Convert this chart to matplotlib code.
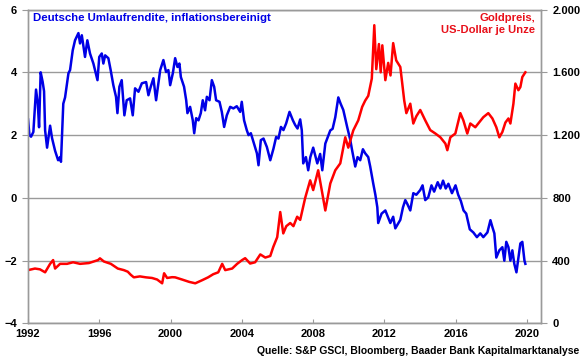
import numpy as np
import matplotlib
matplotlib.use("Agg")
import matplotlib.pyplot as plt
from matplotlib.ticker import FuncFormatter

plt.rcParams['font.family'] = ['Liberation Sans', 'DejaVu Sans']
plt.rcParams['font.weight'] = 'bold'

umlauf = [
    (1992.0, 2.5), (1992.08, 2.0), (1992.17, 1.95), (1992.3, 2.1), (1992.45, 3.45),
    (1992.55, 3.0), (1992.62, 2.25), (1992.71, 4.0), (1992.82, 3.7), (1992.9, 3.4),
    (1992.96, 2.15), (1993.07, 1.6), (1993.24, 2.3), (1993.35, 1.9), (1993.52, 1.5),
    (1993.69, 1.2), (1993.8, 1.3), (1993.85, 1.15), (1993.98, 3.0), (1994.08, 3.2),
    (1994.27, 3.97), (1994.36, 4.07), (1994.51, 4.7), (1994.64, 5.02), (1994.83, 5.25),
    (1994.92, 4.92), (1995.02, 5.18), (1995.2, 4.49), (1995.33, 5.02), (1995.48, 4.6),
    (1995.67, 4.28), (1995.9, 3.75), (1996.0, 4.49), (1996.14, 4.6), (1996.23, 4.28),
    (1996.33, 4.54), (1996.51, 4.45), (1996.64, 4.07), (1996.79, 3.59), (1996.94, 3.22),
    (1997.02, 2.7), (1997.13, 3.54), (1997.26, 3.75), (1997.41, 2.63), (1997.54, 3.11),
    (1997.73, 3.17), (1997.88, 2.63), (1998.01, 3.49), (1998.2, 3.38), (1998.39, 3.65),
    (1998.63, 3.69), (1998.76, 3.27), (1998.89, 3.54), (1999.04, 3.81), (1999.19, 3.11),
    (1999.42, 4.07), (1999.6, 4.39), (1999.75, 4.01), (1999.88, 4.07), (1999.98, 3.59),
    (2000.13, 3.97), (2000.26, 4.45), (2000.39, 4.17), (2000.5, 4.28), (2000.58, 3.85),
    (2000.76, 3.54), (2000.88, 3.11), (2000.95, 2.7), (2001.1, 2.9), (2001.25, 2.47),
    (2001.33, 2.06), (2001.44, 2.54), (2001.57, 2.47), (2001.7, 2.7), (2001.81, 3.11),
    (2001.94, 2.79), (2002.04, 3.22), (2002.19, 3.11), (2002.32, 3.75), (2002.45, 3.54),
    (2002.56, 3.11), (2002.75, 3.06), (2002.88, 2.74), (2003.01, 2.26), (2003.16, 2.63),
    (2003.35, 2.9), (2003.53, 2.85), (2003.72, 2.92), (2003.91, 2.74), (2004.0, 3.06),
    (2004.13, 2.47), (2004.28, 2.16), (2004.38, 2.0), (2004.51, 2.06), (2004.66, 1.78),
    (2004.85, 1.42), (2004.94, 1.04), (2005.07, 1.84), (2005.22, 1.89), (2005.41, 1.62),
    (2005.6, 1.2), (2005.78, 1.57), (2005.93, 1.94), (2006.06, 1.89), (2006.2, 2.26),
    (2006.34, 2.16), (2006.49, 2.37), (2006.68, 2.74), (2006.87, 2.47), (2007.0, 2.32),
    (2007.13, 2.21), (2007.28, 2.5), (2007.37, 2.15), (2007.45, 1.1), (2007.6, 1.3),
    (2007.73, 0.88), (2007.85, 1.3), (2008.01, 1.6), (2008.24, 1.1), (2008.4, 1.4),
    (2008.52, 0.88), (2008.69, 1.73), (2008.97, 2.15), (2009.1, 2.2), (2009.25, 2.57),
    (2009.42, 3.2), (2009.55, 3.0), (2009.7, 2.8), (2009.92, 2.25), (2010.09, 1.85),
    (2010.2, 1.5), (2010.37, 1.0), (2010.5, 1.3), (2010.65, 1.2), (2010.8, 1.55),
    (2010.93, 1.42), (2011.1, 1.3), (2011.21, 1.0), (2011.38, 0.46), (2011.5, 0.1),
    (2011.61, -0.3), (2011.66, -0.8), (2011.85, -0.5), (2012.06, -0.4), (2012.2, -0.6),
    (2012.34, -0.8), (2012.5, -0.6), (2012.62, -0.97), (2012.9, -0.7), (2013.05, -0.3),
    (2013.18, -0.07), (2013.3, -0.2), (2013.46, -0.4), (2013.63, 0.15), (2013.8, 0.1),
    (2014.02, 0.25), (2014.15, 0.4), (2014.3, -0.07), (2014.47, 0.02), (2014.65, 0.4),
    (2014.8, 0.2), (2015.0, 0.5), (2015.15, 0.3), (2015.3, 0.55), (2015.45, 0.3),
    (2015.6, 0.45), (2015.8, 0.15), (2016.0, 0.4), (2016.15, 0.1), (2016.3, -0.1),
    (2016.45, -0.4), (2016.6, -0.5), (2016.8, -1.0), (2017.0, -1.1), (2017.2, -1.25),
    (2017.39, -1.13), (2017.56, -1.25), (2017.79, -1.1), (2017.96, -0.71), (2018.07, -0.93),
    (2018.18, -1.13), (2018.29, -1.9), (2018.46, -1.67), (2018.63, -1.57), (2018.74, -2.0),
    (2018.85, -1.4), (2018.97, -1.57), (2019.08, -2.0), (2019.19, -1.67), (2019.3, -2.1),
    (2019.42, -2.37), (2019.53, -1.9), (2019.64, -1.45), (2019.75, -1.4), (2019.87, -2.0),
    (2019.92, -2.1),
]

# Goldpreis, US-Dollar je Unze: (year, value)
gold = [
    (1992.0, 340), (1992.2, 345), (1992.39, 350), (1992.67, 345), (1992.96, 326),
    (1993.24, 380), (1993.41, 404), (1993.52, 350), (1993.8, 380), (1994.19, 380),
    (1994.53, 390), (1994.92, 380), (1995.42, 385), (1995.93, 404), (1996.04, 415),
    (1996.26, 395), (1996.65, 380), (1997.04, 350), (1997.38, 340), (1997.6, 330),
    (1997.77, 310), (1997.94, 294), (1998.28, 300), (1998.62, 294), (1998.96, 290),
    (1999.25, 280), (1999.53, 256), (1999.64, 320), (1999.81, 290), (2000.09, 295),
    (2000.26, 294), (2000.65, 280), (2001.05, 265), (2001.39, 256), (2001.78, 276),
    (2002.11, 294), (2002.4, 314), (2002.68, 326), (2002.9, 380), (2003.07, 340),
    (2003.46, 350), (2003.74, 380), (2004.02, 404), (2004.19, 416), (2004.47, 382),
    (2004.75, 390), (2005.04, 440), (2005.32, 420), (2005.6, 430), (2005.77, 488),
    (2005.99, 550), (2006.16, 710), (2006.33, 574), (2006.5, 620), (2006.72, 640),
    (2006.9, 620), (2007.11, 680), (2007.28, 660), (2007.56, 800), (2007.84, 912),
    (2008.01, 850), (2008.29, 976), (2008.52, 830), (2008.69, 720), (2008.97, 892),
    (2009.25, 976), (2009.53, 1020), (2009.81, 1186), (2009.98, 1120), (2010.26, 1230),
    (2010.54, 1294), (2010.76, 1380), (2010.93, 1420), (2011.1, 1450), (2011.3, 1560),
    (2011.44, 1900), (2011.55, 1620), (2011.7, 1780), (2011.8, 1600), (2011.89, 1772),
    (2012.06, 1550), (2012.22, 1660), (2012.35, 1580), (2012.5, 1786), (2012.67, 1676),
    (2012.9, 1634), (2013.01, 1528), (2013.12, 1420), (2013.24, 1340), (2013.46, 1400),
    (2013.63, 1274), (2013.8, 1320), (2014.02, 1360), (2014.3, 1294), (2014.58, 1232),
    (2014.87, 1210), (2015.15, 1186), (2015.43, 1146), (2015.54, 1104), (2015.71, 1186),
    (2015.99, 1210), (2016.27, 1340), (2016.44, 1294), (2016.66, 1210), (2016.83, 1274),
    (2017.11, 1250), (2017.39, 1290), (2017.56, 1314), (2017.84, 1340), (2018.07, 1306),
    (2018.29, 1250), (2018.46, 1186), (2018.63, 1220), (2018.8, 1280), (2018.97, 1306),
    (2019.08, 1274), (2019.25, 1400), (2019.36, 1528), (2019.53, 1486), (2019.64, 1506),
    (2019.75, 1570), (2019.92, 1600),
]

left_ticks = [-4, -2, 0, 2, 4, 6]
right_ticks = [0, 400, 800, 1200, 1600, 2000]
year_ticks = [1992, 1996, 2000, 2004, 2008, 2012, 2016, 2020]

blue = '#0000e6'
red = '#ff0000'
grey = '#9a9a9a'

u_x, u_y = zip(*umlauf)
g_x, g_y = zip(*gold)

fig = plt.figure(figsize=(5.8, 3.59), dpi=100)
ax = fig.add_axes([0.0483, 0.0989, 0.8845, 0.8746])
ax.set_xlim(1992, 2020.8)
ax.set_ylim(-4, 6)
ax.set_yticks(left_ticks)
ax.set_xticks(year_ticks)
ax.grid(axis='y', color=grey, lw=1.0)
ax.set_axisbelow(True)
ax.plot(u_x, u_y, color=blue, lw=1.8, zorder=3)

ax2 = ax.twinx()
ax2.set_ylim(0, 2000)
ax2.set_yticks(right_ticks)
ax2.yaxis.set_major_formatter(FuncFormatter(lambda v, p: f"{int(v):,}".replace(',', '.')))
ax2.plot(g_x, g_y, color=red, lw=1.8)

for a in (ax, ax2):
    for s in a.spines.values():
        s.set_color(grey)
        s.set_linewidth(1.0)
ax.tick_params(axis='y', direction='out', length=4, color=grey, labelsize=8, pad=4)
ax.tick_params(axis='x', direction='in', length=3, color=grey, labelsize=8, pad=4)
ax2.tick_params(axis='y', direction='out', length=4, color=grey, labelsize=8, pad=4)
for lab in ax.get_xticklabels() + ax.get_yticklabels() + ax2.get_yticklabels():
    lab.set_fontweight('bold')

fig.text(33 / 580, 1 - 18 / 359, 'Deutsche Umlaufrendite, inflationsbereinigt', color=blue,
         fontsize=8.2, fontweight='bold', ha='left', va='center')
fig.text(535 / 580, 1 - 24 / 359, 'Goldpreis,\nUS-Dollar je Unze', color='#e8101a',
         fontsize=8.1, fontweight='bold', ha='right', va='center', multialignment='right',
         linespacing=1.15)
fig.text(579 / 580, 1 - 351 / 359, 'Quelle: S&P GSCI, Bloomberg, Baader Bank Kapitalmarktanalyse',
         fontsize=7.5, fontweight='bold', ha='right', va='center')

fig.savefig('out.png', dpi=100)
